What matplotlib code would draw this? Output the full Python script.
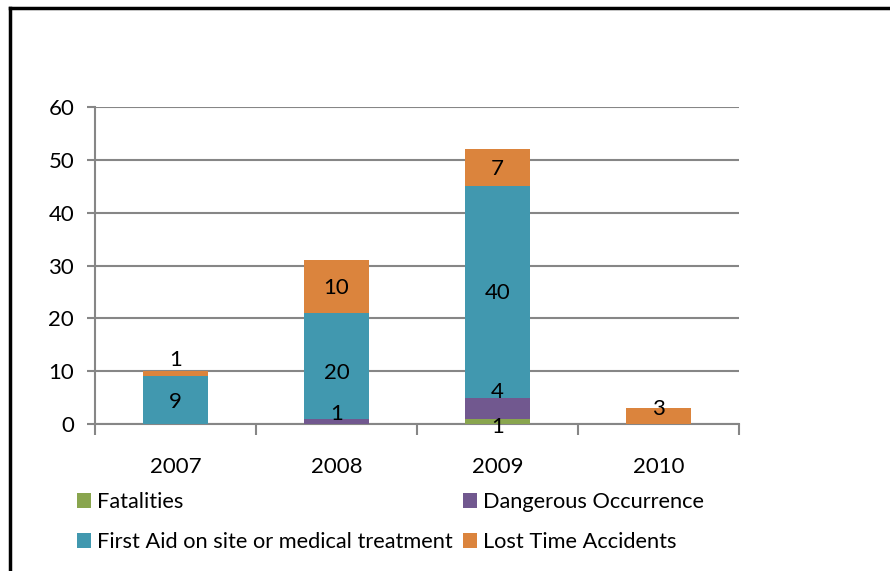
import numpy as np
import matplotlib.pyplot as plt
from matplotlib.lines import Line2D

plt.rcParams['font.family'] = ['Lato', 'DejaVu Sans']

years = ['2007', '2008', '2009', '2010']
fatalities = [0, 0, 1, 0]
dangerous = [0, 1, 4, 0]
first_aid = [9, 20, 40, 0]
lost_time = [1, 10, 7, 3]

series = [
    ('Fatalities', fatalities, '#89A54E'),
    ('Dangerous Occurrence', dangerous, '#71588F'),
    ('First Aid on site or medical treatment', first_aid, '#4198AF'),
    ('Lost Time Accidents', lost_time, '#DB843D'),
]

# label nudges (points) for the small segments, like Excel placed them
nudge = {(0, 3): 11, (1, 1): 6, (2, 0): -3, (2, 1): 13, (3, 3): 6, (1, 2): -4}

fig = plt.figure(figsize=(8.9, 5.71), dpi=100)
ax = fig.add_axes([0.1067, 0.2574, 0.7236, 0.5552])

x = np.arange(len(years))
bottom = np.zeros(len(years))
handles = {}
for si, (name, vals, col) in enumerate(series):
    vals = np.array(vals, dtype=float)
    bars = ax.bar(x, vals, 0.4, bottom=bottom, color=col, zorder=3)
    handles[name] = bars
    for i, v in enumerate(vals):
        if v > 0:
            ax.annotate(f'{int(v)}', (x[i], bottom[i] + v / 2),
                        xytext=(0, nudge.get((i, si), 0) - 1), textcoords='offset points',
                        ha='center', va='center', fontsize=16, color='black', zorder=5)
    bottom += vals

ax.set_xlim(-0.5, 3.5)
ax.set_ylim(0, 60)
ax.set_yticks(range(0, 61, 10))
ax.yaxis.grid(True, color='#868686', linewidth=1.5, zorder=0)
ax.set_xticks(x)
ax.set_xticklabels(years)
ax.set_xticks(np.arange(-0.5, 4, 1), minor=True)
ax.tick_params(axis='x', which='major', length=0, pad=24, labelsize=16)
ax.tick_params(axis='x', which='minor', length=8, width=1.5, color='#868686')
ax.tick_params(axis='y', length=6, width=1.5, color='#868686', pad=9, labelsize=16)
for s in ['top', 'right']:
    ax.spines[s].set_visible(False)
for s in ['left', 'bottom']:
    ax.spines[s].set_color('#868686')
    ax.spines[s].set_linewidth(1.5)

order = ['Fatalities', 'First Aid on site or medical treatment',
         'Dangerous Occurrence', 'Lost Time Accidents']
fig.legend([handles[n] for n in order], order, ncol=2, loc='upper left',
           bbox_to_anchor=(0.0865, 0.138), frameon=False, fontsize=15.7,
           handlelength=0.64, handleheight=0.64, handletextpad=0.27,
           columnspacing=0.5, labelspacing=0.92, borderpad=0, borderaxespad=0)

# outer frame of the original chart (left and top edges visible)
fig.add_artist(Line2D([0.0112, 0.0112], [0, 0.986], color='black', linewidth=2.5))
fig.add_artist(Line2D([0.0112, 1.0], [0.986, 0.986], color='black', linewidth=2.5))

fig.savefig('out.png', dpi=100)
